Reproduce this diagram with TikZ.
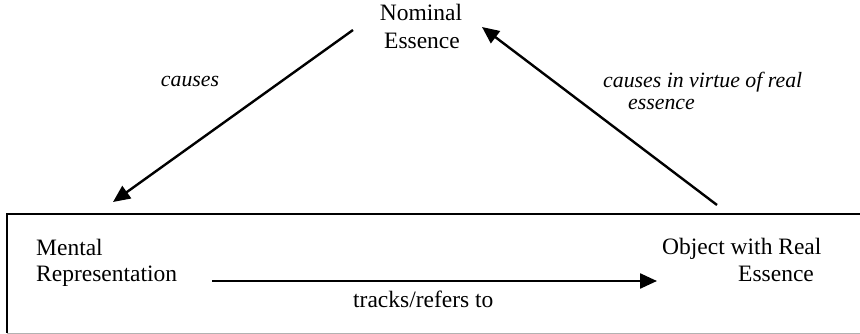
\documentclass[tikz,border=0pt]{standalone}
\usepackage{fontspec}
\setmainfont{Liberation Serif}
\usetikzlibrary{arrows.meta}
\begin{document}
\begin{tikzpicture}[x=1pt,y=-1pt,
  lbl/.style={font=\fontsize{23.5}{28}\selectfont, inner sep=0pt},
  ital/.style={font=\fontsize{21.8}{28}\selectfont\itshape, inner sep=0pt},
  conn/.style={line width=2.4pt, -{Triangle[length=17pt,width=15pt]}},
  frame/.style={line width=2.2pt}]
\useasboundingbox (0,0) rectangle (860,334);
% frame box (open at right)
\draw[frame] (860,214) -- (7,214) -- (7,333);
\draw[gray!60, line width=1pt] (7,333) -- (860,333);
% labels
\node[lbl, anchor=base] (nom1) at (421,21) {Nominal};
\node[lbl, anchor=base] (nom2) at (422,49) {Essence};
\node[ital, anchor=base] (cs) at (190,87) {causes};
\node[ital, anchor=base west] (civ1) at (603,88) {causes in virtue of real};
\node[ital, anchor=base west] (civ2) at (628,110) {essence};
\node[lbl, anchor=base west] (men1) at (36,255) {Mental};
\node[lbl, anchor=base west] (men2) at (36,281) {Representation};
\node[lbl, anchor=base west] (obj1) at (662,254) {Object with Real};
\node[lbl, anchor=base west] (obj2) at (738,281) {Essence};
\node[lbl, anchor=base west] (trk) at (353,307) {tracks/refers to};
% connector ends
\coordinate (a1s) at (353,30);
\coordinate (a1e) at (113,202);
\coordinate (a2s) at (717,205);
\coordinate (a2e) at (482,27);
\coordinate (a3s) at (212,281);
\coordinate (a3e) at (657,281);
\draw[conn] (a1s) -- (a1e);
\draw[conn] (a2s) -- (a2e);
\draw[conn] (a3s) -- (a3e);
\end{tikzpicture}
\end{document}
